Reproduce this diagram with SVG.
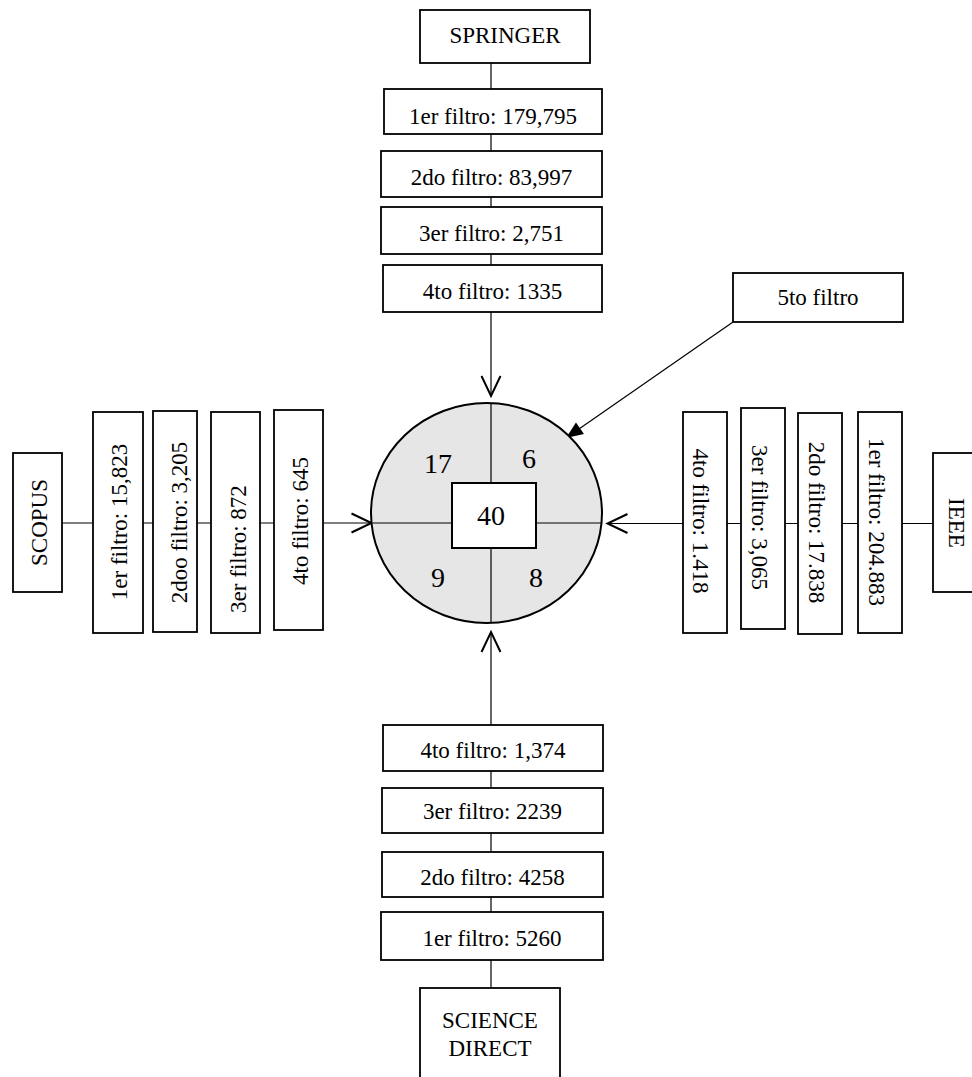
<svg xmlns="http://www.w3.org/2000/svg" width="972" height="1077" viewBox="0 0 972 1077">
<style>
  .box { fill: #ffffff; stroke: #000000; stroke-width: 1.8; }
  .t { font-family: "Liberation Serif", "Times New Roman", serif; font-size: 23px; fill: #000000; text-anchor: middle; }
  .n { font-family: "Liberation Serif", "Times New Roman", serif; font-size: 28px; fill: #000000; text-anchor: middle; }
  .ln { stroke: #000000; stroke-width: 1.2; fill: none; }
</style>
<defs>
  <marker id="openV" markerUnits="userSpaceOnUse" markerWidth="26" markerHeight="26" viewBox="-23 -13 26 26" refX="0" refY="0" orient="auto">
    <path d="M-20,-9.5 L0,0 L-20,9.5" fill="none" stroke="#000" stroke-width="2"/>
  </marker>
  <marker id="filled" markerUnits="userSpaceOnUse" markerWidth="24" markerHeight="24" viewBox="-20 -12 24 24" refX="0" refY="0" orient="auto">
    <path d="M-17,-7 L0,0 L-17,7 z" fill="#000"/>
  </marker>
</defs>
<rect x="0" y="0" width="972" height="1077" fill="#ffffff"/>

<g id="connectors">
  <line class="ln" x1="491" y1="63" x2="491" y2="396" marker-end="url(#openV)"/>
  <line class="ln" x1="491" y1="988" x2="491" y2="632" marker-end="url(#openV)"/>
  <line class="ln" x1="62" y1="523" x2="371.5" y2="523" marker-end="url(#openV)"/>
  <line class="ln" x1="933" y1="523.5" x2="607.5" y2="523.5" marker-end="url(#openV)"/>
  <line class="ln" x1="733" y1="322" x2="566" y2="438" stroke-width="2" marker-end="url(#filled)"/>
</g>

<g id="center">
  <ellipse cx="486.5" cy="513" rx="115.5" ry="110" fill="#e6e6e6" stroke="#000" stroke-width="2"/>
  <line class="ln" x1="491" y1="403" x2="491" y2="623"/>
  <line class="ln" x1="371" y1="523" x2="602" y2="523"/>
  <rect x="452" y="483" width="84" height="65" fill="#ffffff" stroke="#000" stroke-width="2"/>
  <text class="n" x="438" y="473">17</text>
  <text class="n" x="529" y="468">6</text>
  <text class="n" x="491" y="525">40</text>
  <text class="n" x="438" y="587">9</text>
  <text class="n" x="536" y="587">8</text>
</g>

<g id="springer"><rect class="box" x="420" y="10" width="170" height="53"/><text class="t" x="505" y="43">SPRINGER</text></g>
<g id="springer-f1"><rect class="box" x="384" y="89" width="218" height="45"/><text class="t" x="493" y="124">1er filtro: 179,795</text></g>
<g id="springer-f2"><rect class="box" x="381" y="151" width="221" height="46"/><text class="t" x="491.5" y="185">2do filtro: 83,997</text></g>
<g id="springer-f3"><rect class="box" x="381" y="207" width="221" height="47"/><text class="t" x="491.5" y="241">3er filtro: 2,751</text></g>
<g id="springer-f4"><rect class="box" x="383" y="265" width="219" height="47"/><text class="t" x="492.5" y="299">4to filtro: 1335</text></g>

<g id="filtro5"><rect class="box" x="733" y="273" width="170" height="49"/><text class="t" x="818" y="305">5to filtro</text></g>

<g id="scopus"><rect class="box" x="13" y="453" width="49" height="139"/><text class="t" transform="translate(46.5,522.5) rotate(-90)">SCOPUS</text></g>
<g id="scopus-f1"><rect class="box" x="93" y="412" width="50" height="221"/><text class="t" transform="translate(127,522) rotate(-90)">1er filtro: 15,823</text></g>
<g id="scopus-f2"><rect class="box" x="153" y="411" width="44" height="221"/><text class="t" transform="translate(187,522.5) rotate(-90)">2doo filtro: 3,205</text></g>
<g id="scopus-f3"><rect class="box" x="211" y="412" width="49" height="221"/><text class="t" transform="translate(246,549) rotate(-90)">3er filtro: 872</text></g>
<g id="scopus-f4"><rect class="box" x="274" y="410" width="49" height="220"/><text class="t" transform="translate(308,521) rotate(-90)">4to filtro: 645</text></g>

<g id="ieee-f4"><rect class="box" x="683" y="412" width="44" height="221"/><text class="t" transform="translate(693,521) rotate(90)">4to filtro: 1.418</text></g>
<g id="ieee-f3"><rect class="box" x="741" y="408" width="44" height="221"/><text class="t" transform="translate(752,517.5) rotate(90)">3er filtro: 3,065</text></g>
<g id="ieee-f2"><rect class="box" x="798" y="413" width="44" height="221"/><text class="t" transform="translate(808.5,522.5) rotate(90)">2do filtro: 17.838</text></g>
<g id="ieee-f1"><rect class="box" x="858" y="412" width="44" height="221"/><text class="t" transform="translate(868.5,522) rotate(90)">1er filtro: 204.883</text></g>
<g id="ieee"><rect class="box" x="933" y="453" width="50" height="139"/><text class="t" transform="translate(948.5,523) rotate(90)">IEEE</text></g>

<g id="sd-f4"><rect class="box" x="383" y="725" width="220" height="46"/><text class="t" x="493" y="758">4to filtro: 1,374</text></g>
<g id="sd-f3"><rect class="box" x="382" y="788" width="221" height="45"/><text class="t" x="492.5" y="819">3er filtro: 2239</text></g>
<g id="sd-f2"><rect class="box" x="382" y="852" width="221" height="45"/><text class="t" x="492.5" y="885">2do filtro: 4258</text></g>
<g id="sd-f1"><rect class="box" x="381" y="912" width="222" height="48"/><text class="t" x="492" y="946">1er filtro: 5260</text></g>
<g id="sciencedirect"><rect class="box" x="420" y="988" width="140" height="100"/><text class="t" x="490" y="1028">SCIENCE</text><text class="t" x="490" y="1056">DIRECT</text></g>
</svg>
